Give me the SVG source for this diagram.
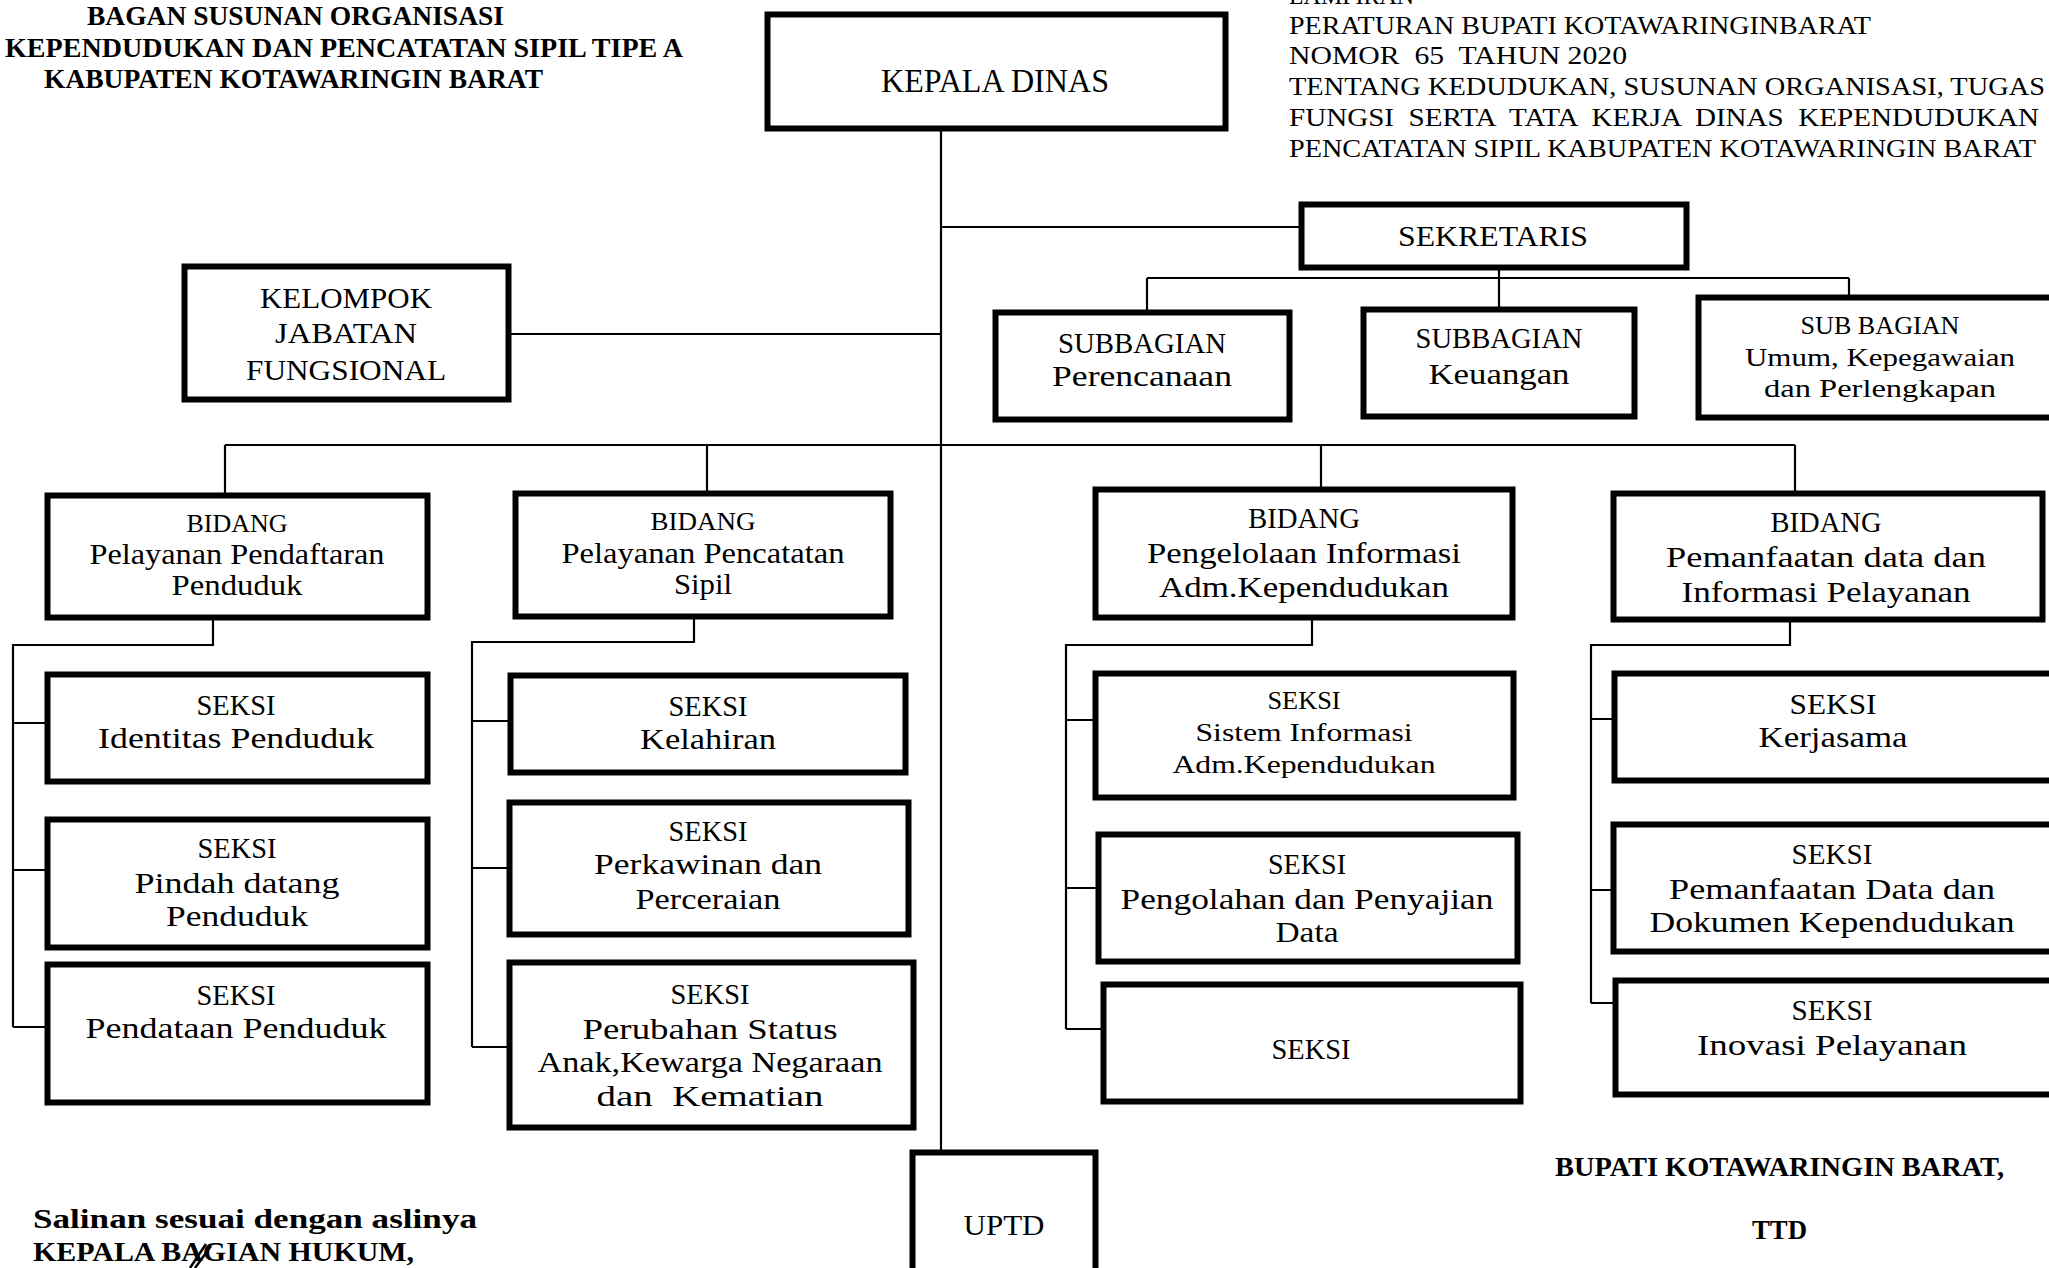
<svg xmlns="http://www.w3.org/2000/svg" width="2049" height="1268" viewBox="0 0 2049 1268">
<style>
.bg{fill:#fff}
.box{fill:#fff;stroke:#000;stroke-width:6}
.ln{fill:none;stroke:#000;stroke-width:2.2}
.t{font-family:"Liberation Serif",serif;font-size:28.5px;fill:#000;text-anchor:middle}
.s{font-size:25px}
.k{font-size:33px}
.h{font-family:"Liberation Serif",serif;font-size:27.5px;font-weight:bold;fill:#000}
.r{font-family:"Liberation Serif",serif;font-size:25.5px;fill:#000}
</style>
<rect class="bg" x="0" y="0" width="2049" height="1268"/>

<g id="header">
<text class="h" x="87" y="25" textLength="417" lengthAdjust="spacingAndGlyphs">BAGAN SUSUNAN ORGANISASI</text>
<text class="h" x="5" y="57" textLength="678" lengthAdjust="spacingAndGlyphs">KEPENDUDUKAN DAN PENCATATAN SIPIL TIPE A</text>
<text class="h" x="44" y="88" textLength="499" lengthAdjust="spacingAndGlyphs">KABUPATEN KOTAWARINGIN BARAT</text>
<text class="r" x="1289" y="4" textLength="125" lengthAdjust="spacingAndGlyphs">LAMPIRAN</text>
<text class="r" x="1289" y="34" textLength="582" lengthAdjust="spacingAndGlyphs">PERATURAN BUPATI KOTAWARINGINBARAT</text>
<text class="r" x="1289" y="64" textLength="338" lengthAdjust="spacingAndGlyphs" xml:space="preserve">NOMOR  65  TAHUN 2020</text>
<text class="r" x="1289" y="95" textLength="756" lengthAdjust="spacingAndGlyphs">TENTANG KEDUDUKAN, SUSUNAN ORGANISASI, TUGAS</text>
<text class="r" x="1289" y="126" textLength="750" lengthAdjust="spacingAndGlyphs" xml:space="preserve">FUNGSI  SERTA  TATA  KERJA  DINAS  KEPENDUDUKAN</text>
<text class="r" x="1289" y="157" textLength="747" lengthAdjust="spacingAndGlyphs">PENCATATAN SIPIL KABUPATEN KOTAWARINGIN BARAT</text>
</g>

<g id="connectors">
<path class="ln" d="M941 130 V1150"/>
<path class="ln" d="M941 227 H1299"/>
<path class="ln" d="M511 334 H941"/>
<path class="ln" d="M1499 270 V278 M1147 278 H1849 M1147 278 V310 M1499 278 V307 M1849 278 V295"/>
<path class="ln" d="M225 445 H1795 M225 445 V493 M707 445 V491 M1321 445 V487 M1795 445 V491"/>
<path class="ln" d="M213 620 V645 H13 V1027 M13 723 H45 M13 870 H45 M13 1027 H45"/>
<path class="ln" d="M694 619 V642 H472 V1047 M472 721 H508 M472 868 H507 M472 1047 H507"/>
<path class="ln" d="M1312 620 V645 H1066 V1029 M1066 720 H1093 M1066 888 H1096 M1066 1029 H1101"/>
<path class="ln" d="M1790 622 V645 H1591 V1003 M1591 719 H1612 M1591 890 H1611 M1591 1003 H1613"/>
</g>

<g id="kepala-dinas">
<rect class="box" x="767.5" y="14.5" width="458" height="114"/>
<text class="t k" x="995" y="92" textLength="228" lengthAdjust="spacingAndGlyphs">KEPALA DINAS</text>
</g>
<g id="sekretaris">
<rect class="box" x="1301.5" y="204.5" width="385" height="63"/>
<text class="t" x="1493" y="246" textLength="190" lengthAdjust="spacingAndGlyphs">SEKRETARIS</text>
</g>
<g id="kelompok-jabatan-fungsional">
<rect class="box" x="184.5" y="266.5" width="324" height="133"/>
<text class="t" x="346" y="308" textLength="172" lengthAdjust="spacingAndGlyphs">KELOMPOK</text>
<text class="t" x="346" y="343" textLength="142" lengthAdjust="spacingAndGlyphs">JABATAN</text>
<text class="t" x="346" y="380" textLength="200" lengthAdjust="spacingAndGlyphs">FUNGSIONAL</text>
</g>
<g id="subbagian-perencanaan">
<rect class="box" x="995.5" y="312.5" width="294" height="107"/>
<text class="t" x="1142" y="353" textLength="168" lengthAdjust="spacingAndGlyphs">SUBBAGIAN</text>
<text class="t" x="1142" y="386" textLength="180" lengthAdjust="spacingAndGlyphs">Perencanaan</text>
</g>
<g id="subbagian-keuangan">
<rect class="box" x="1363.5" y="309.5" width="271" height="107"/>
<text class="t" x="1499" y="348" textLength="167" lengthAdjust="spacingAndGlyphs">SUBBAGIAN</text>
<text class="t" x="1499" y="384" textLength="141" lengthAdjust="spacingAndGlyphs">Keuangan</text>
</g>
<g id="subbagian-umum">
<rect class="box" x="1698.5" y="297.5" width="400" height="120"/>
<text class="t s" x="1880" y="334" textLength="159" lengthAdjust="spacingAndGlyphs">SUB BAGIAN</text>
<text class="t s" x="1880" y="366" textLength="270" lengthAdjust="spacingAndGlyphs">Umum, Kepegawaian</text>
<text class="t s" x="1880" y="397" textLength="232" lengthAdjust="spacingAndGlyphs">dan Perlengkapan</text>
</g>

<g id="bidang-pendaftaran">
<rect class="box" x="47.5" y="495.5" width="380" height="122"/>
<text class="t s" x="237" y="532" textLength="101" lengthAdjust="spacingAndGlyphs">BIDANG</text>
<text class="t" x="237" y="564" textLength="295" lengthAdjust="spacingAndGlyphs">Pelayanan Pendaftaran</text>
<text class="t" x="237" y="595" textLength="131" lengthAdjust="spacingAndGlyphs">Penduduk</text>
</g>
<g id="bidang-pencatatan">
<rect class="box" x="515.5" y="493.5" width="375" height="123"/>
<text class="t s" x="703" y="530" textLength="105" lengthAdjust="spacingAndGlyphs">BIDANG</text>
<text class="t" x="703" y="563" textLength="283" lengthAdjust="spacingAndGlyphs">Pelayanan Pencatatan</text>
<text class="t" x="703" y="594" textLength="58" lengthAdjust="spacingAndGlyphs">Sipil</text>
</g>
<g id="bidang-pengelolaan">
<rect class="box" x="1095.5" y="489.5" width="417" height="128"/>
<text class="t" x="1304" y="528" textLength="112" lengthAdjust="spacingAndGlyphs">BIDANG</text>
<text class="t" x="1304" y="563" textLength="314" lengthAdjust="spacingAndGlyphs">Pengelolaan Informasi</text>
<text class="t" x="1304" y="597" textLength="290" lengthAdjust="spacingAndGlyphs">Adm.Kependudukan</text>
</g>
<g id="bidang-pemanfaatan">
<rect class="box" x="1613.5" y="493.5" width="429" height="126"/>
<text class="t" x="1826" y="532" textLength="111" lengthAdjust="spacingAndGlyphs">BIDANG</text>
<text class="t" x="1826" y="567" textLength="320" lengthAdjust="spacingAndGlyphs">Pemanfaatan data dan</text>
<text class="t" x="1826" y="602" textLength="289" lengthAdjust="spacingAndGlyphs">Informasi Pelayanan</text>
</g>

<g id="seksi-identitas">
<rect class="box" x="47.5" y="674.5" width="380" height="107"/>
<text class="t" x="236" y="715" textLength="79" lengthAdjust="spacingAndGlyphs">SEKSI</text>
<text class="t" x="236" y="748" textLength="276" lengthAdjust="spacingAndGlyphs">Identitas Penduduk</text>
</g>
<g id="seksi-pindah">
<rect class="box" x="47.5" y="819.5" width="380" height="128"/>
<text class="t" x="237" y="858" textLength="79" lengthAdjust="spacingAndGlyphs">SEKSI</text>
<text class="t" x="237" y="893" textLength="205" lengthAdjust="spacingAndGlyphs">Pindah datang</text>
<text class="t" x="237" y="926" textLength="142" lengthAdjust="spacingAndGlyphs">Penduduk</text>
</g>
<g id="seksi-pendataan">
<rect class="box" x="47.5" y="964.5" width="380" height="138"/>
<text class="t" x="236" y="1005" textLength="79" lengthAdjust="spacingAndGlyphs">SEKSI</text>
<text class="t" x="236" y="1038" textLength="301" lengthAdjust="spacingAndGlyphs">Pendataan Penduduk</text>
</g>

<g id="seksi-kelahiran">
<rect class="box" x="510.5" y="675.5" width="395" height="97"/>
<text class="t" x="708" y="716" textLength="79" lengthAdjust="spacingAndGlyphs">SEKSI</text>
<text class="t" x="708" y="749" textLength="136" lengthAdjust="spacingAndGlyphs">Kelahiran</text>
</g>
<g id="seksi-perkawinan">
<rect class="box" x="509.5" y="802.5" width="399" height="132"/>
<text class="t" x="708" y="841" textLength="79" lengthAdjust="spacingAndGlyphs">SEKSI</text>
<text class="t" x="708" y="874" textLength="228" lengthAdjust="spacingAndGlyphs">Perkawinan dan</text>
<text class="t" x="708" y="909" textLength="145" lengthAdjust="spacingAndGlyphs">Perceraian</text>
</g>
<g id="seksi-perubahan">
<rect class="box" x="509.5" y="962.5" width="404" height="165"/>
<text class="t" x="710" y="1004" textLength="79" lengthAdjust="spacingAndGlyphs">SEKSI</text>
<text class="t" x="710" y="1039" textLength="255" lengthAdjust="spacingAndGlyphs">Perubahan Status</text>
<text class="t" x="710" y="1072" textLength="345" lengthAdjust="spacingAndGlyphs">Anak,Kewarga Negaraan</text>
<text class="t" x="710" y="1106" textLength="227" lengthAdjust="spacingAndGlyphs" xml:space="preserve">dan  Kematian</text>
</g>

<g id="seksi-sistem-informasi">
<rect class="box" x="1095.5" y="673.5" width="418" height="124"/>
<text class="t s" x="1304" y="709" textLength="73" lengthAdjust="spacingAndGlyphs">SEKSI</text>
<text class="t s" x="1304" y="741" textLength="217" lengthAdjust="spacingAndGlyphs">Sistem Informasi</text>
<text class="t s" x="1304" y="773" textLength="263" lengthAdjust="spacingAndGlyphs">Adm.Kependudukan</text>
</g>
<g id="seksi-pengolahan">
<rect class="box" x="1098.5" y="834.5" width="419" height="127"/>
<text class="t" x="1307" y="874" textLength="78" lengthAdjust="spacingAndGlyphs">SEKSI</text>
<text class="t" x="1307" y="909" textLength="373" lengthAdjust="spacingAndGlyphs">Pengolahan dan Penyajian</text>
<text class="t" x="1307" y="942" textLength="63" lengthAdjust="spacingAndGlyphs">Data</text>
</g>
<g id="seksi">
<rect class="box" x="1103.5" y="984.5" width="417" height="117"/>
<text class="t" x="1311" y="1059" textLength="79" lengthAdjust="spacingAndGlyphs">SEKSI</text>
</g>

<g id="seksi-kerjasama">
<rect class="box" x="1614.5" y="673.5" width="480" height="107"/>
<text class="t" x="1833" y="714" textLength="87" lengthAdjust="spacingAndGlyphs">SEKSI</text>
<text class="t" x="1833" y="747" textLength="149" lengthAdjust="spacingAndGlyphs">Kerjasama</text>
</g>
<g id="seksi-pemanfaatan">
<rect class="box" x="1613.5" y="824.5" width="480" height="127"/>
<text class="t" x="1832" y="864" textLength="81" lengthAdjust="spacingAndGlyphs">SEKSI</text>
<text class="t" x="1832" y="899" textLength="326" lengthAdjust="spacingAndGlyphs">Pemanfaatan Data dan</text>
<text class="t" x="1832" y="932" textLength="365" lengthAdjust="spacingAndGlyphs">Dokumen Kependudukan</text>
</g>
<g id="seksi-inovasi">
<rect class="box" x="1615.5" y="980.5" width="480" height="114"/>
<text class="t" x="1832" y="1020" textLength="81" lengthAdjust="spacingAndGlyphs">SEKSI</text>
<text class="t" x="1832" y="1055" textLength="270" lengthAdjust="spacingAndGlyphs">Inovasi Pelayanan</text>
</g>

<g id="uptd">
<rect class="box" x="912.5" y="1152.5" width="183" height="130"/>
<text class="t" x="1004" y="1235" textLength="81" lengthAdjust="spacingAndGlyphs">UPTD</text>
</g>

<g id="footer">
<text class="h" x="1555" y="1176" textLength="449" lengthAdjust="spacingAndGlyphs">BUPATI KOTAWARINGIN BARAT,</text>
<text class="h" x="1752" y="1239" textLength="55" lengthAdjust="spacingAndGlyphs">TTD</text>
<text class="h" x="33" y="1228" textLength="444" lengthAdjust="spacingAndGlyphs">Salinan sesuai dengan aslinya</text>
<text class="h" x="33" y="1261" textLength="381" lengthAdjust="spacingAndGlyphs">KEPALA BAGIAN HUKUM,</text>
<path d="M190 1268 L206 1244 M195 1268 L211 1246" fill="none" stroke="#000" stroke-width="2.5"/>
</g>
</svg>
